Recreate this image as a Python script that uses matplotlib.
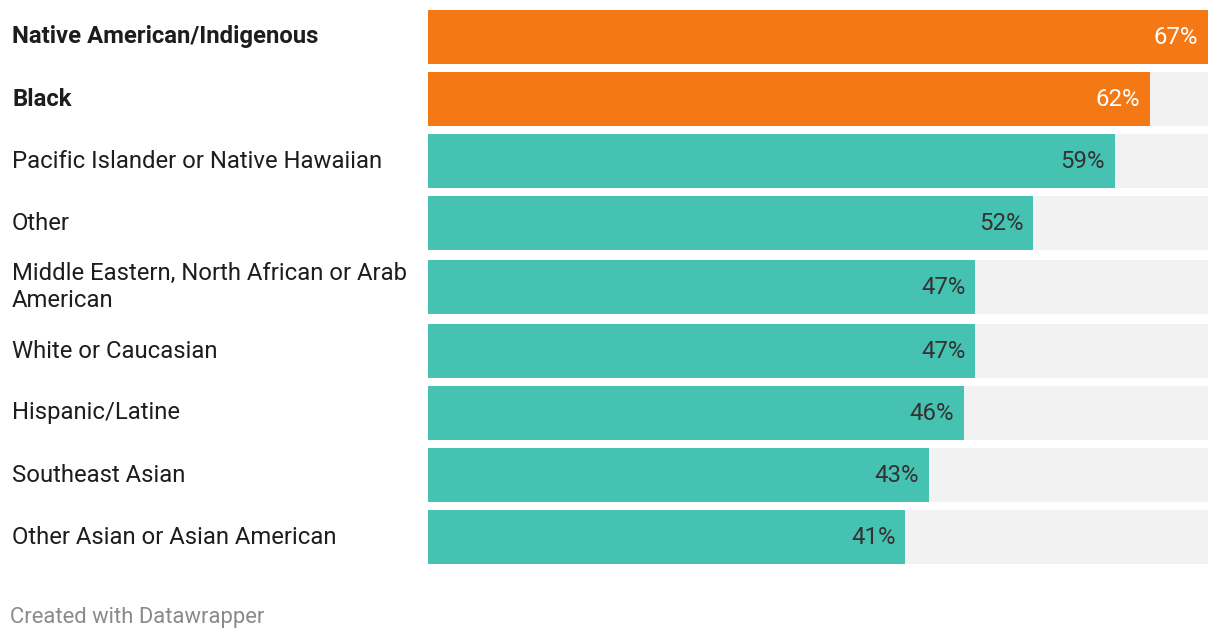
import matplotlib.pyplot as plt

plt.rcParams['font.family'] = ['Roboto', 'DejaVu Sans']

categories = ['Native American/Indigenous', 'Black', 'Pacific Islander or Native Hawaiian',
              'Other', 'Middle Eastern, North African or Arab\nAmerican', 'White or Caucasian',
              'Hispanic/Latine', 'Southeast Asian', 'Other Asian or Asian American']
values = [67, 62, 59, 52, 47, 47, 46, 43, 41]
highlight = [True, True, False, False, False, False, False, False, False]

W, H = 1220, 640
fig = plt.figure(figsize=(W / 100, H / 100), dpi=100)
x0, x1 = 428, 1208
ax = fig.add_axes([x0 / W, 0, (x1 - x0) / W, 1])
ax.set_xlim(0, max(values))
ax.set_ylim(H, 0)
ax.axis('off')

tops = [10, 72, 134, 196, 260, 324, 386, 448, 510]
bar_h = 54
vmax = max(values)

for top, cat, v, hl in zip(tops, categories, values, highlight):
    ax.barh(top, vmax, height=bar_h, align='edge', color='#f2f2f2')
    ax.barh(top, v, height=bar_h, align='edge', color='#f47915' if hl else '#45c2b1')
    ax.text(v - 0.85, top + bar_h / 2, f'{v}%', ha='right', va='center', fontsize=17.3,
            color='white' if hl else '#333333')
    fig.text(12 / W, 1 - (top + bar_h / 2) / H, cat, ha='left', va='center', fontsize=17.2,
             fontweight='bold' if hl else 'normal', color='#1d1d1d', linespacing=1.2)

fig.text(10 / W, 1 - 617 / H, 'Created with Datawrapper', ha='left', va='center',
         fontsize=15.8, color='#8a8a8a')

fig.savefig('out.png', dpi=100, facecolor='white')
